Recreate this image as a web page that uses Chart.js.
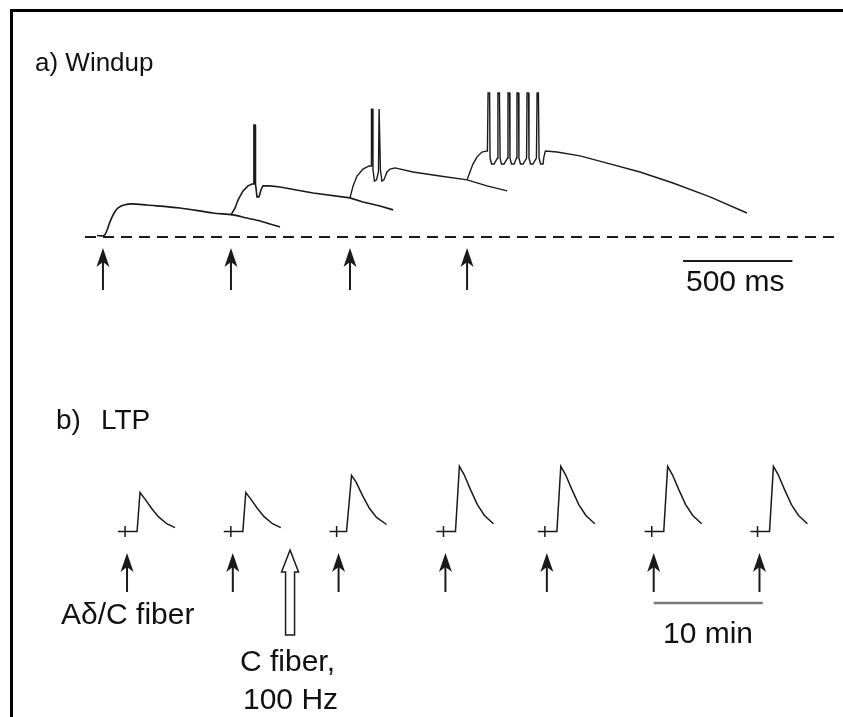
<!DOCTYPE html>
<html>
<head>
<meta charset="utf-8">
<script src="https://cdn.jsdelivr.net/npm/chart.js@4"></script>
<style>
  html, body { margin: 0; padding: 0; background: #fff; }
  body { width: 843px; height: 717px; overflow: hidden; position: relative; font-family: "Liberation Sans", Arial, sans-serif; color: #111; }
  .frame { position: absolute; left: 10px; top: 9px; width: 900px; height: 800px; border: 3px solid #000; box-sizing: border-box; }
  .lbl { position: absolute; white-space: nowrap; line-height: 1; }
  canvas { position: absolute; left: 0; }
  #windup { top: 40px; }
  #ltp { top: 380px; }
</style>
</head>
<body>
<div class="frame"></div>
<canvas id="windup" width="843" height="280"></canvas>
<canvas id="ltp" width="843" height="337"></canvas>
<div class="lbl" style="left:35px; top:49px; font-size:26px;">a) Windup</div>
<div class="lbl" style="left:56px; top:406px; font-size:28px;">b)<span style="margin-left:20px">LTP</span></div>
<div class="lbl" style="left:686px; top:266px; font-size:30px;">500 ms</div>
<div class="lbl" style="left:61px; top:599px; font-size:30px;">Aδ/C fiber</div>
<div class="lbl" style="left:240px; top:646px; font-size:30px;">C fiber,</div>
<div class="lbl" style="left:243px; top:684px; font-size:30px;">100 Hz</div>
<div class="lbl" style="left:663px; top:618px; font-size:30px;">10 min</div>
<script>
// ---- a) windup: time in ms, membrane potential in mV above rest ----
const WINDUP_STIM_MS = [82, 667, 1211, 1746];
const WINDUP_BASELINE_MS = [0, 3441];
const WINDUP_BAR_MS = [2733, 3233]; // 500 ms

const TRACE1_MS = [55, 87, 101, 114, 133, 151, 178, 215, 283, 434, 585, 676, 740, 800, 845, 891];
const TRACE1_MV = [0.6, 0.6, 2.9, 6.3, 10, 12.1, 13.3, 13.8, 13.3, 12.1, 10, 9.2, 7.9, 6.7, 5.4, 4.2];

const TRACE2_MS = [667, 686, 699, 722, 745, 763, 770, 772, 777, 779, 786, 795, 804, 813, 845, 891, 1042, 1211, 1270, 1348, 1408];
const TRACE2_MV = [9.2, 12.1, 15.4, 19.2, 21.3, 22.1, 22.1, 46.7, 46.7, 22.1, 16.7, 16.7, 19.6, 21.3, 21.3, 20.8, 18.3, 16.3, 14.6, 12.9, 11.3];

const TRACE3_MS = [1211, 1225, 1243, 1270, 1298, 1307, 1309, 1314, 1316, 1323, 1332, 1341, 1344, 1348, 1350, 1357, 1366, 1380, 1394, 1417, 1499, 1622, 1746, 1837, 1929];
const TRACE3_MV = [16.3, 21.3, 25.4, 28.3, 29.6, 29.6, 53.3, 53.3, 27.9, 23.3, 23.8, 27.1, 53.3, 53.3, 27.9, 23.3, 23.8, 27.1, 28.3, 28.8, 27.1, 25.4, 23.8, 21.3, 19.2];

const TRACE4_MS = [1746, 1759, 1773, 1791, 1814, 1833,
  1839, 1842, 1849, 1851, 1858, 1869,
  1885, 1887, 1894, 1897, 1903, 1915,
  1931, 1933, 1940, 1942, 1949, 1961,
  1972, 1974, 1981, 1983, 1990, 2002,
  2018, 2020, 2027, 2029, 2036, 2047,
  2063, 2066, 2072, 2075, 2082, 2093,
  2097, 2104, 2157, 2262, 2386, 2536, 2687, 2856, 3025];
const TRACE4_MV = [23.8, 27.1, 30.4, 33.3, 35.4, 35.8,
  35.8, 60, 60, 32.9, 30.4, 30.4,
  32.9, 60, 60, 32.9, 30.4, 30.4,
  32.9, 60, 60, 32.9, 30.4, 30.4,
  32.9, 60, 60, 32.9, 30.4, 30.4,
  32.9, 60, 60, 32.9, 30.4, 30.4,
  32.9, 60, 60, 32.9, 30.4, 30.4,
  33.3, 35.8, 35.4, 33.8, 30.8, 27.1, 22.5, 16.7, 10];

// ---- b) LTP: time in min, EPSP in % of control ----
const LTP_STIM_MIN = [0, 9.7, 19.4, 29.2, 38.5, 48.3, 58.0];
const LTP_SWEEP_SHAPE = ['small', 'small', 'medium', 'large', 'large', 'large', 'large'];
const TETANUS_MIN = 14.95;
const LTP_BAR_MIN = [48.3, 58.3]; // 10 min

const SMALL_T = [-0.83, -0.18, -0.18, -0.18, -0.18, 0.92, 1.19, 1.65, 2.26, 2.87, 3.64, 4.40];
const SMALL_V = [0, 0, 14, -14, 0, 0, 100, 83, 59, 38, 20, 10];
const MEDIUM_T = [-0.83, -0.18, -0.18, -0.18, -0.18, 0.73, 1.19, 1.62, 2.2, 2.84, 3.48, 4.40];
const MEDIUM_V = [0, 0, 14, -14, 0, 0, 144, 126, 92, 59, 36, 18];
const LARGE_T = [-0.83, -0.18, -0.18, -0.18, -0.18, 0.92, 1.28, 1.71, 2.29, 2.93, 3.58, 4.40];
const LARGE_V = [0, 0, 14, -14, 0, 0, 167, 146, 108, 69, 41, 20];

const SHAPES = {
    small: [SMALL_T, SMALL_V],
    medium: [MEDIUM_T, MEDIUM_V],
    large: [LARGE_T, LARGE_V]
};

const INK = '#1a1a1a';

function pts(xs, ys) {
    return xs.map((x, i) => ({ x: x, y: ys[i] }));
}

function arrowUp(ctx, x, tipY, len) {
    ctx.save();
    ctx.strokeStyle = INK;
    ctx.fillStyle = INK;
    ctx.lineWidth = 2;
    ctx.beginPath();
    ctx.moveTo(x, tipY + 12);
    ctx.lineTo(x, tipY + len);
    ctx.stroke();
    ctx.beginPath();
    ctx.moveTo(x, tipY);
    ctx.lineTo(x - 6.5, tipY + 19);
    ctx.lineTo(x, tipY + 14);
    ctx.lineTo(x + 6.5, tipY + 19);
    ctx.closePath();
    ctx.fill();
    ctx.restore();
}

function openArrow(ctx, x, tipY, len) {
    ctx.save();
    ctx.strokeStyle = INK;
    ctx.fillStyle = '#fff';
    ctx.lineWidth = 1.5;
    ctx.beginPath();
    ctx.moveTo(x, tipY);
    ctx.lineTo(x + 8.5, tipY + 22);
    ctx.lineTo(x + 4.5, tipY + 22);
    ctx.lineTo(x + 4.5, tipY + len);
    ctx.lineTo(x - 4.5, tipY + len);
    ctx.lineTo(x - 4.5, tipY + 22);
    ctx.lineTo(x - 8.5, tipY + 22);
    ctx.closePath();
    ctx.fill();
    ctx.stroke();
    ctx.restore();
}

// stimulus arrows and scale bar, placed from the data through the chart's scales
function marks(cfg) {
    return {
        id: 'marks',
        afterDatasetsDraw(chart) {
            const ctx = chart.ctx;
            const xs = chart.scales.x, ys = chart.scales.y;
            const y0 = ys.getPixelForValue(0);
            cfg.stim.forEach(t => arrowUp(ctx, xs.getPixelForValue(t), y0 + cfg.tipGap, cfg.arrowLen));
            if (cfg.open != null) {
                openArrow(ctx, xs.getPixelForValue(cfg.open), y0 + cfg.openGap, cfg.openLen);
            }
            ctx.save();
            ctx.strokeStyle = cfg.barColor;
            ctx.lineWidth = cfg.barWidth;
            ctx.beginPath();
            ctx.moveTo(xs.getPixelForValue(cfg.bar[0]), y0 + cfg.barGap);
            ctx.lineTo(xs.getPixelForValue(cfg.bar[1]), y0 + cfg.barGap);
            ctx.stroke();
            ctx.restore();
        }
    };
}

function baseOptions(xMin, xMax, yMin, yMax) {
    return {
        responsive: false,
        animation: false,
        layout: { padding: 0 },
        elements: { point: { radius: 0 } },
        plugins: { legend: { display: false }, tooltip: { enabled: false } },
        scales: {
            x: { type: 'linear', display: false, min: xMin, max: xMax },
            y: { type: 'linear', display: false, min: yMin, max: yMax }
        }
    };
}

const traceStyle = { showLine: true, borderColor: INK, borderWidth: 1.6, pointRadius: 0, fill: false, clip: false };

new Chart(document.getElementById('windup'), {
    type: 'scatter',
    data: {
        datasets: [
            Object.assign({ data: pts(WINDUP_BASELINE_MS, [0, 0]) }, traceStyle, { borderWidth: 2, borderDash: [11, 7] }),
            Object.assign({ data: pts(TRACE1_MS, TRACE1_MV), tension: 0.3 }, traceStyle),
            Object.assign({ data: pts(TRACE2_MS, TRACE2_MV) }, traceStyle),
            Object.assign({ data: pts(TRACE3_MS, TRACE3_MV) }, traceStyle, { borderWidth: 1.4 }),
            Object.assign({ data: pts(TRACE4_MS, TRACE4_MV) }, traceStyle, { borderWidth: 1.4 })
        ]
    },
    options: baseOptions(-388.5, 3464, -34.6, 82.1),
    plugins: [marks({
        stim: WINDUP_STIM_MS, tipGap: 11, arrowLen: 42,
        bar: WINDUP_BAR_MS, barGap: 24, barColor: INK, barWidth: 2
    })]
});

const ltpSets = LTP_STIM_MIN.map((t0, i) => {
    const shape = SHAPES[LTP_SWEEP_SHAPE[i]];
    return Object.assign({ data: pts(shape[0].map(t => t0 + t), shape[1]) }, traceStyle, { borderWidth: 1.5 });
});

new Chart(document.getElementById('ltp'), {
    type: 'scatter',
    data: { datasets: ltpSets },
    options: baseOptions(-11.65, 65.66, -475.6, 388.5),
    plugins: [marks({
        stim: LTP_STIM_MIN, tipGap: 21.5, arrowLen: 39,
        open: TETANUS_MIN, openGap: 18.5, openLen: 85,
        bar: LTP_BAR_MIN, barGap: 71.5, barColor: '#777', barWidth: 2.5
    })]
});
</script>
</body>
</html>
